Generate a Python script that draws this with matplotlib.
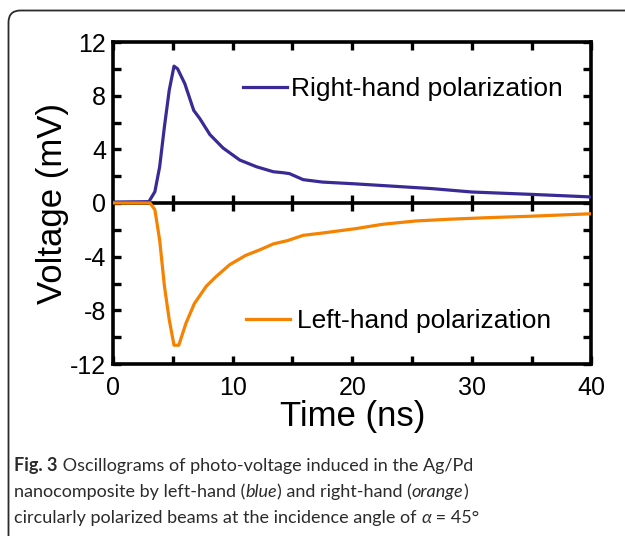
import numpy as np
import matplotlib
matplotlib.use("Agg")
import matplotlib.pyplot as plt
from matplotlib.patches import FancyBboxPatch
from matplotlib.transforms import IdentityTransform

# values
t_right = [0, 3.0, 3.5, 3.9, 4.3, 4.7, 5.1, 5.4, 6.0, 6.75, 7.25, 8.1, 9.2, 10.6, 12.0,
           13.4, 14.2, 14.75, 15.9, 17.5, 20.0, 23.1, 26.7, 30.0, 34.8, 40.0]
v_right = [0.07, 0.1, 0.84, 2.7, 5.7, 8.4, 10.2, 10.0, 8.9, 6.9, 6.3, 5.1, 4.1, 3.2, 2.7,
           2.33, 2.26, 2.19, 1.74, 1.56, 1.44, 1.27, 1.07, 0.82, 0.65, 0.45]

t_left = [0, 3.1, 3.5, 3.9, 4.3, 4.7, 5.1, 5.5, 6.1, 6.8, 7.8, 8.6, 9.75, 11.1, 12.25,
          13.4, 14.6, 15.9, 17.5, 20.3, 22.5, 25.3, 28.1, 31.4, 34.8, 40.0]
v_left = [0.0, 0.0, -0.5, -2.76, -6.2, -8.7, -10.6, -10.6, -8.96, -7.5, -6.2, -5.5, -4.6,
          -3.9, -3.5, -3.05, -2.8, -2.41, -2.24, -1.91, -1.59, -1.34, -1.21, -1.09, -0.99, -0.8]

x_labels = [0, 10, 20, 30, 40]
y_labels = [-12, -8, -4, 0, 4, 8, 12]

blue = "#3a2a96"
orange = "#f58200"

plt.rcParams['font.family'] = ['Liberation Sans', 'DejaVu Sans']

W, H = 625, 536
fig = plt.figure(figsize=(W / 100, H / 100), dpi=100)
fig.patch.set_facecolor("white")

# rounded card border (cropped on the right and bottom)
card = FancyBboxPatch((8.5, -30), 700, H - 10.5 + 30,
                      boxstyle="round,pad=0,rounding_size=12",
                      transform=IdentityTransform(), fc="none", ec="#2a2a2a", lw=1.3)
fig.patches.append(card)

ax = fig.add_axes([113 / W, 1 - 364 / H, (591.5 - 113) / W, (364 - 42) / H])
l1, = ax.plot(t_right, v_right, color=blue, lw=2.3, label="Right-hand polarization", zorder=3)
l2, = ax.plot(t_left, v_left, color=orange, lw=2.3, label="Left-hand polarization", zorder=3)

ax.set_xlim(0, 40)
ax.set_ylim(-12, 12)
ax.set_xticks(np.arange(0, 41, 5))
ax.set_xticklabels([str(v) if v in x_labels else "" for v in range(0, 41, 5)])
ax.set_yticks(np.arange(-12, 13, 2))
ax.set_yticklabels([str(v) if v in y_labels else "" for v in range(-12, 13, 2)])
ax.tick_params(direction="in", length=6, width=2.4, labelsize=18, top=True, right=True)
ax.tick_params(axis="x", pad=8.5)
ax.tick_params(axis="y", pad=5)
for s in ax.spines.values():
    s.set_linewidth(2.6)

# zero line with crossing ticks
ax.axhline(0, color="black", lw=2.6, zorder=2)
ax.plot(np.arange(5, 40, 5), np.zeros(7), ls="none", marker="|", ms=11, mew=2.4,
        color="black", zorder=2)

ax.set_xlabel("Time (ns)", fontsize=25, labelpad=0)
ax.set_ylabel("Voltage (mV)", fontsize=25, labelpad=1)

leg1 = ax.legend(handles=[l1], loc="center left", bbox_to_anchor=(0.272, 0.854),
                 frameon=False, fontsize=19, handlelength=1.67, handletextpad=0.15,
                 borderpad=0, borderaxespad=0)
ax.add_artist(leg1)
ax.legend(handles=[l2], loc="center left", bbox_to_anchor=(0.278, 0.1335),
          frameon=False, fontsize=19, handlelength=1.67, handletextpad=0.27,
          borderpad=0, borderaxespad=0)

# caption with mixed styles
cap_font = ['Lato', 'DejaVu Sans']
lines = [
    [("Fig. 3", "bold", "normal"), (" Oscillograms of photo-voltage induced in the Ag/Pd", "normal", "normal")],
    [("nanocomposite by left-hand (", "normal", "normal"), ("blue", "normal", "italic"),
     (") and right-hand (", "normal", "normal"), ("orange", "normal", "italic"), (")", "normal", "normal")],
    [("circularly polarized beams at the incidence angle of ", "normal", "normal"),
     ("α", "normal", "italic"), (" = 45°", "normal", "normal")],
]
baselines = [471, 497, 523]
renderer = fig.canvas.get_renderer()
for parts, yb in zip(lines, baselines):
    x = 14
    for s, wt, st in parts:
        t = fig.text(x / W, 1 - yb / H, s, fontsize=13, family=cap_font, weight=wt,
                     style=st, color="#2b2b2b", va="baseline", ha="left")
        x += t.get_window_extent(renderer).width

fig.savefig("out.png", dpi=100)
